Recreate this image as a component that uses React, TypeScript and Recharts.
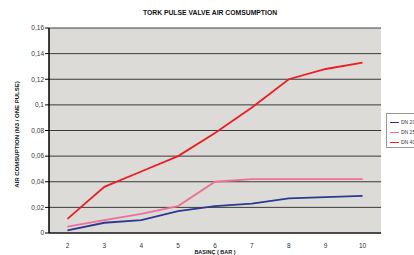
import React from 'react';
import { LineChart, Line, XAxis, YAxis, CartesianGrid, Legend } from 'recharts';

const pressures = [2, 3, 4, 5, 6, 7, 8, 9, 10];
const dn20 = [0.002, 0.008, 0.010, 0.017, 0.021, 0.023, 0.027, 0.028, 0.029];
const dn25 = [0.005, 0.010, 0.015, 0.021, 0.040, 0.042, 0.042, 0.042, 0.042];
const dn40 = [0.011, 0.036, 0.048, 0.060, 0.078, 0.098, 0.120, 0.128, 0.133];
const yTicks = [0, 0.02, 0.04, 0.06, 0.08, 0.1, 0.12, 0.14, 0.16];
const minorTicks = [2.5, 3.5, 4.5, 5.5, 6.5, 7.5, 8.5, 9.5];
const seriesNames = ['DN 20', 'DN 25', 'DN 40'];
const title = 'TORK PULSE VALVE AIR COMSUMPTION';
const yLabel = 'AIR COMSUPTION (M3 / ONE PULSE)';
const xLabel = 'BASINÇ ( BAR )';

const data = pressures.map((p, i) => ({ p, a: dn20[i], b: dn25[i], c: dn40[i] }));

const FONT = "'Liberation Sans', Arial, sans-serif";

const LegendBox = (props: any) => {
  const payload = props.payload || [];
  return (
    <div style={{ border: '1px solid #999', background: '#fff', width: 40, height: 35, boxSizing: 'border-box', paddingTop: 3, fontFamily: FONT }}>
      {payload.map((e: any) => (
        <div key={e.value} style={{ display: 'flex', alignItems: 'center', height: 10 }}>
          <div style={{ width: 9, height: 1, background: e.color, marginLeft: 3, marginRight: 2 }} />
          <span style={{ fontSize: 5, color: '#333' }}>{e.value}</span>
        </div>
      ))}
    </div>
  );
};

export default function App() {
  return (
    <div style={{ position: 'absolute', left: 0, top: 0, width: 414, height: 255, overflow: 'hidden', background: '#fff' }}>
      <div style={{ position: 'absolute', left: 0, width: 420, top: 9, textAlign: 'center', fontFamily: FONT, fontWeight: 'bold', fontSize: 6.8, color: '#111' }}>
        {title}
      </div>
      <LineChart width={414} height={255} data={data} margin={{ top: 28, right: 33, bottom: 0, left: 9 }}>
        <CartesianGrid vertical={false} stroke="#2a2a2a" strokeOpacity={0.9} fill="#dddbd7" fillOpacity={1} />
        <XAxis
          xAxisId="minor"
          type="number"
          dataKey="p"
          domain={[1.5, 10.5]}
          ticks={minorTicks}
          tick={false}
          axisLine={false}
          tickSize={3}
          tickLine={{ stroke: '#222' }}
          height={0}
        />
        <XAxis
          dataKey="p"
          type="number"
          domain={[1.5, 10.5]}
          ticks={pressures}
          interval={0}
          tickLine={false}
          axisLine={{ stroke: '#000', strokeWidth: 1 }}
          tick={{ fontSize: 6.5, fill: '#333', fontFamily: FONT }}
          tickMargin={4}
          height={22}
          label={{ value: xLabel, position: 'insideBottom', offset: 1, fontSize: 5.5, fontWeight: 'bold', fill: '#111', fontFamily: FONT }}
        />
        <YAxis
          domain={[0, 0.16]}
          ticks={yTicks}
          interval={0}
          width={40}
          tickFormatter={(v: number) => String(v).replace('.', ',')}
          tick={{ fontSize: 6.5, fill: '#333', fontFamily: FONT }}
          tickSize={4}
          tickMargin={1}
          tickLine={{ stroke: '#000' }}
          axisLine={{ stroke: '#000', strokeWidth: 1.5 }}
          label={{ value: yLabel, angle: -90, position: 'center', dx: -12, dy: 4, fontSize: 6, fontWeight: 'bold', fill: '#111', fontFamily: FONT }}
        />
        <Legend
          layout="vertical"
          align="center"
          verticalAlign="middle"
          content={<LegendBox />}
          wrapperStyle={{ left: 386, top: 113, width: 40 }}
        />
        <Line dataKey="a" name={seriesNames[0]} stroke="#2b3990" strokeWidth={1.8} dot={false} isAnimationActive={false} />
        <Line dataKey="b" name={seriesNames[1]} stroke="#ec6f9c" strokeWidth={1.8} dot={false} isAnimationActive={false} />
        <Line dataKey="c" name={seriesNames[2]} stroke="#ee1c25" strokeWidth={1.8} dot={false} isAnimationActive={false} />
      </LineChart>
    </div>
  );
}
